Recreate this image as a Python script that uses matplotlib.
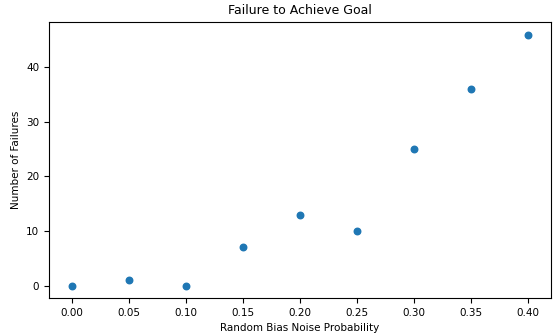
import matplotlib
matplotlib.use("Agg")
import matplotlib.pyplot as plt

noise_prob = [0.00, 0.05, 0.10, 0.15, 0.20, 0.25, 0.30, 0.35, 0.40]
failures = [0, 1, 0, 7, 13, 10, 25, 36, 46]

fig, ax = plt.subplots(figsize=(5.57, 3.35), dpi=100)
fig.subplots_adjust(left=0.088, right=0.989, top=0.934, bottom=0.110)

ax.scatter(noise_prob, failures, s=22, color="#1f77b4")
ax.set_title("Failure to Achieve Goal", fontsize=9)
ax.set_xlabel("Random Bias Noise Probability", fontsize=7.5)
ax.set_ylabel("Number of Failures", fontsize=7.5)
ax.tick_params(labelsize=7.5)
ax.set_xticks([0.0, 0.05, 0.1, 0.15, 0.2, 0.25, 0.3, 0.35, 0.4])
ax.set_xticklabels(["0.00", "0.05", "0.10", "0.15", "0.20", "0.25", "0.30", "0.35", "0.40"])
ax.set_yticks([0, 10, 20, 30, 40])

fig.savefig("out.png")
